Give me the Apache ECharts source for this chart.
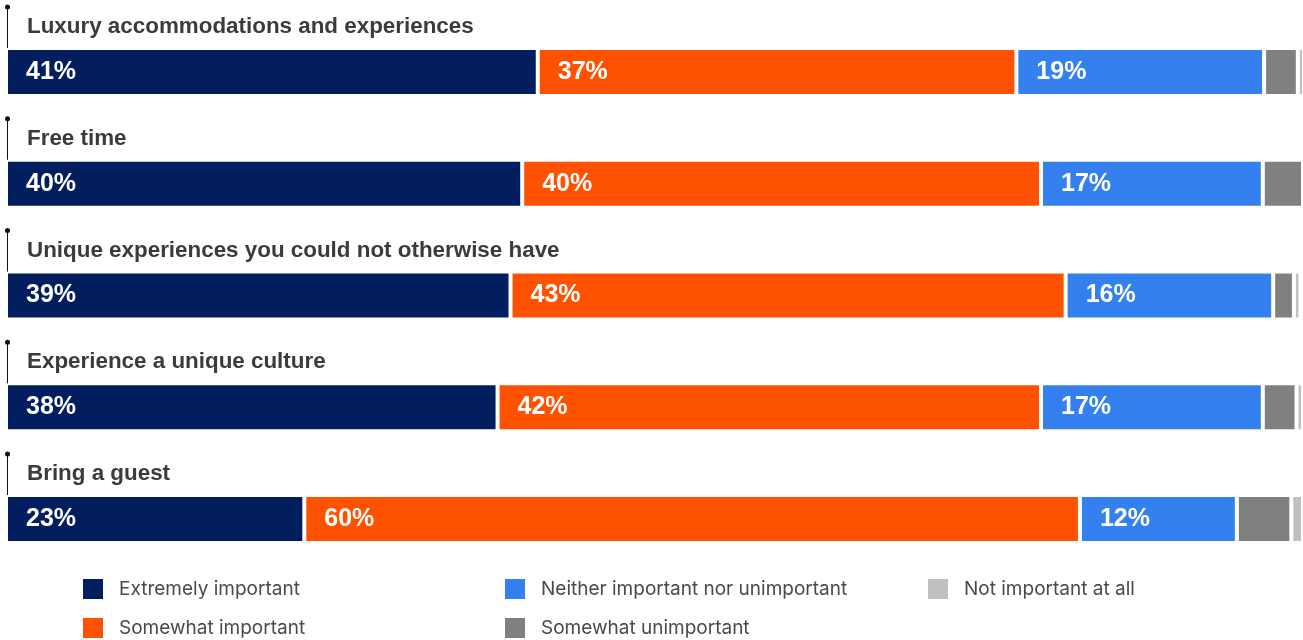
<!DOCTYPE html>
<html><head><meta charset="utf-8">
<script src="https://cdn.jsdelivr.net/npm/echarts@6/dist/echarts.min.js"></script>
<style>html,body{margin:0;padding:0;background:#fff}#c{width:1303px;height:640px}</style>
</head><body><div id="c"></div>
<script>
const categories = [
  'Luxury accommodations and experiences',
  'Free time',
  'Unique experiences you could not otherwise have',
  'Experience a unique culture',
  'Bring a guest'
];
const seriesNames = [
  'Extremely important',
  'Somewhat important',
  'Neither important nor unimportant',
  'Somewhat unimportant',
  'Not important at all'
];
const extremely = [41.0, 39.8, 38.9, 37.9, 23.0];
const somewhat = [36.9, 40.0, 42.8, 41.9, 59.8];
const neither = [19.1, 17.1, 16.0, 17.1, 12.1];
const somewhatUn = [2.6, 3.1, 1.6, 2.6, 4.2];
const notAtAll = [0.5, 0, 0.5, 0.5, 0.9];
const colors = ['#021E5E', '#FF5200', '#3380EE', '#808080', '#C0C0C0'];
const values = [extremely, somewhat, neither, somewhatUn, notAtAll];
const showLabel = [true, true, true, false, false];

const TITLE_FONT = '"Liberation Sans", Arial, sans-serif';
const LEGEND_FONT = 'Inter, Roboto, sans-serif';
const chart = echarts.init(document.getElementById('c'));

const barSeries = values.map((arr, i) => ({
  name: seriesNames[i],
  type: 'bar',
  stack: 'total',
  barWidth: 48,
  data: arr,
  itemStyle: { color: colors[i], borderColor: '#fff', borderWidth: 2 },
  label: {
    show: showLabel[i],
    position: 'insideLeft',
    distance: 20,
    color: '#fff',
    fontFamily: TITLE_FONT,
    fontWeight: 'bold',
    fontSize: 25,
    formatter: p => Math.round(p.value) + '%'
  },
  emphasis: { disabled: true },
  animation: false
}));

const markerSeries = {
  type: 'custom',
  silent: true,
  animation: false,
  data: categories.map((c, i) => [0, i]),
  encode: { x: 0, y: 1 },
  renderItem: function (params, api) {
    const p = api.coord([api.value(0), api.value(1)]);
    const x = p[0] + 1.5;
    const topY = p[1] - 65;
    const botY = p[1] - 22;
    return {
      type: 'group',
      children: [
        { type: 'line', shape: { x1: x, y1: topY, x2: x, y2: botY }, style: { stroke: '#111', lineWidth: 1 } },
        { type: 'circle', shape: { cx: x, cy: topY, r: 2.5 }, style: { fill: '#111' } }
      ]
    };
  }
};

const legendLeft = [81, 81, 503, 503, 926];
const legendTop = [577, 616, 577, 616, 577];
const legends = seriesNames.map((n, i) => ({
  orient: 'horizontal',
  left: legendLeft[i],
  top: legendTop[i],
  padding: 0,
  itemWidth: 22,
  itemHeight: 22,
  icon: 'rect',
  selectedMode: false,
  data: [n],
  textStyle: { fontFamily: LEGEND_FONT, fontSize: 19, color: '#4a4a4a', padding: [0, 0, 0, 10] }
}));

chart.setOption({
  backgroundColor: '#fff',
  animation: false,
  grid: { left: 6, right: 0, top: 16, height: 559, containLabel: false },
  xAxis: { type: 'value', min: 0, max: 100, show: false },
  yAxis: {
    type: 'category',
    inverse: true,
    data: categories,
    axisLine: { show: false },
    axisTick: { show: false },
    axisLabel: {
      inside: true,
      margin: 21,
      align: 'left',
      verticalAlign: 'bottom',
      padding: [0, 0, 34, 0],
      fontFamily: TITLE_FONT,
      fontWeight: 'bold',
      fontSize: 22.4,
      color: '#3d3a3a'
    }
  },
  legend: legends,
  series: barSeries.concat([markerSeries])
});
</script>
</body></html>
